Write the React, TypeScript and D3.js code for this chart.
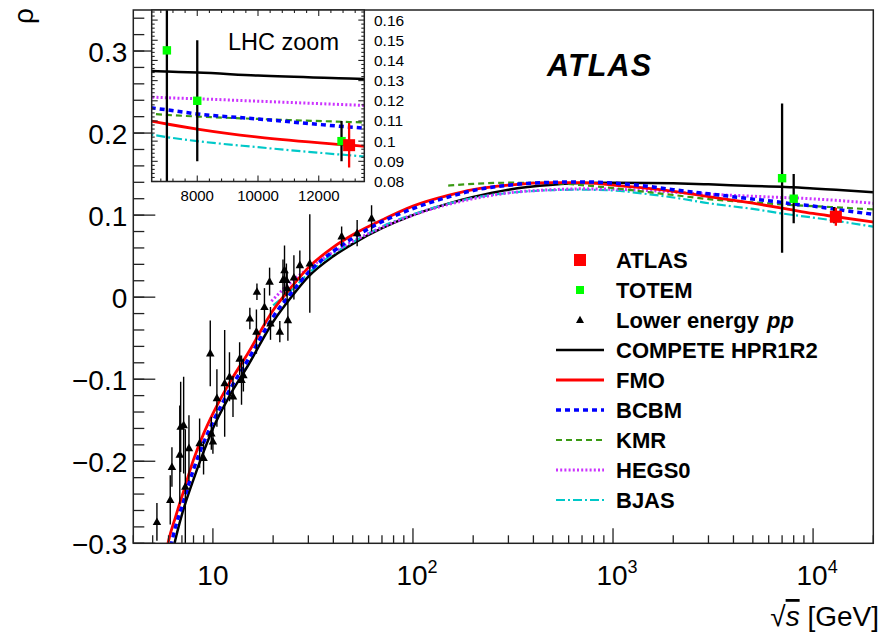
import React from 'react';
import * as d3 from 'd3';

const W = 883;
const H = 638;
const FONT = "'Liberation Sans', Arial, Helvetica, sans-serif";

// ---------- data ----------
type P = [number, number];

const COMPETE: P[] = [
  [6.0, -0.335], [6.5, -0.295], [7, -0.265], [8, -0.222], [9, -0.188], [10, -0.16], [12, -0.122],
  [15, -0.083], [20, -0.03], [25, 0.002], [30, 0.025], [40, 0.05], [50, 0.065], [70, 0.084],
  [100, 0.1], [150, 0.114], [200, 0.122], [300, 0.131], [500, 0.137], [700, 0.139], [1000, 0.1395],
  [1500, 0.1392], [2000, 0.1387], [3000, 0.1375], [5000, 0.1355], [7000, 0.1345], [8000, 0.134],
  [10000, 0.1325], [13000, 0.131], [20000, 0.128],
];
const FMO: P[] = [
  [5.8, -0.315], [6, -0.297], [6.5, -0.268], [7, -0.243], [8, -0.198], [9, -0.166], [10, -0.142],
  [12, -0.106], [15, -0.068], [20, -0.016], [25, 0.014], [30, 0.036], [40, 0.061], [50, 0.076],
  [70, 0.094], [100, 0.111], [150, 0.124], [200, 0.131], [300, 0.1365], [500, 0.1395], [700, 0.1395],
  [1000, 0.1365], [1500, 0.1325], [2000, 0.129], [3000, 0.1225], [5000, 0.1145], [7000, 0.1085],
  [8000, 0.106], [10000, 0.102], [13000, 0.098], [20000, 0.0915],
];
const BCBM: P[] = [
  [5.9, -0.325], [6.5, -0.28], [7, -0.255], [8, -0.21], [9, -0.177], [10, -0.152], [12, -0.115],
  [15, -0.076], [20, -0.024], [25, 0.007], [30, 0.03], [40, 0.056], [50, 0.072], [70, 0.092],
  [100, 0.108], [150, 0.122], [200, 0.13], [300, 0.1365], [500, 0.14], [700, 0.1405], [1000, 0.139],
  [1500, 0.135], [2000, 0.131], [3000, 0.126], [5000, 0.1195], [7000, 0.1155], [8000, 0.1135],
  [10000, 0.111], [13000, 0.107], [20000, 0.101],
];
const KMR: P[] = [
  [150, 0.136], [200, 0.138], [300, 0.1395], [500, 0.139], [700, 0.1365], [1000, 0.133],
  [1500, 0.128], [2000, 0.1245], [3000, 0.1195], [5000, 0.1155], [7000, 0.113], [8000, 0.1122],
  [10000, 0.111], [13000, 0.1095], [20000, 0.107],
];
const HEGS0: P[] = [
  [19.6, -0.005], [25, 0.02], [30, 0.035], [40, 0.055], [50, 0.068], [70, 0.085], [100, 0.1],
  [150, 0.113], [200, 0.12], [300, 0.127], [500, 0.131], [700, 0.132], [1000, 0.1315], [1500, 0.13],
  [2000, 0.128], [3000, 0.1255], [5000, 0.123], [7000, 0.1215], [8000, 0.121], [10000, 0.1198],
  [13000, 0.118], [20000, 0.1145],
];
const BJAS: P[] = [
  [20, -0.01], [25, 0.01], [30, 0.029], [40, 0.053], [50, 0.067], [70, 0.086], [100, 0.101],
  [150, 0.114], [200, 0.121], [300, 0.127], [500, 0.1305], [700, 0.131], [1000, 0.13], [1500, 0.1255],
  [2000, 0.1215], [3000, 0.1145], [5000, 0.1075], [7000, 0.102], [8000, 0.1], [10000, 0.097],
  [13000, 0.093], [20000, 0.086],
];

const lowS = [5.25, 6.12, 6.24, 6.83, 6.9, 7.14, 7.28, 7.59, 8.58, 8.98, 9.7, 9.82, 10.0, 10.47,
  11.45, 12.1, 12.6, 13.6, 13.9, 14.2, 15.3, 16.6, 16.5, 18.1, 19.2, 19.4, 21.6, 22.4, 22.8, 23.3,
  23.5, 23.7, 25.4, 27.2, 30.5, 44, 52.6, 62.1];
const lowRho = [-0.274, -0.247, -0.207, -0.192, -0.158, -0.156, -0.231, -0.184, -0.178, -0.196,
  -0.0685, -0.166, -0.176, -0.123, -0.105, -0.097, -0.121, -0.075, -0.101, -0.095, -0.026, 0.0066,
  -0.042, -0.012, 0.019, -0.032, -0.042, 0.021, 0.033, 0.021, 0.011, -0.028, 0.024, 0.039, 0.041,
  0.074, 0.078, 0.096];
const lowErr = [0.023, 0.03, 0.024, 0.06, 0.055, 0.059, 0.07, 0.04, 0.03, 0.02, 0.04, 0.02, 0.015,
  0.035, 0.065, 0.03, 0.025, 0.02, 0.03, 0.02, 0.013, 0.01, 0.027, 0.023, 0.017, 0.02, 0.013, 0.025,
  0.03, 0.02, 0.02, 0.025, 0.027, 0.018, 0.06, 0.012, 0.016, 0.016];

const totemS = [7000, 8000, 12750];
const totemRho = [0.145, 0.12, 0.1];
const totemErr = [0.091, 0.03, 0.01];

const atlasS = [13000];
const atlasRho = [0.098];
const atlasErr = [0.011];

const yMajor = [-0.3, -0.2, -0.1, 0, 0.1, 0.2, 0.3];
const yMajorLabels = ['\u22120.3', '\u22120.2', '\u22120.1', '0', '0.1', '0.2', '0.3'];
const xMajor = [10, 100, 1000, 10000];
const xMajorBase = ['10', '10', '10', '10'];
const xMajorExp = ['', '2', '3', '4'];

const inYMajor = [0.08, 0.09, 0.1, 0.11, 0.12, 0.13, 0.14, 0.15, 0.16];
const inYLabels = ['0.08', '0.09', '0.1', '0.11', '0.12', '0.13', '0.14', '0.15', '0.16'];
const inXMajor = [8000, 10000, 12000];
const inXLabels = ['8000', '10000', '12000'];

// ---------- styles ----------
const models = [
  { name: 'COMPETE HPR1R2', data: COMPETE, color: '#000000', width: 2.5, dash: '' },
  { name: 'BJAS', data: BJAS, color: '#00c8c8', width: 2.2, dash: '9,3,2,3' },
  { name: 'HEGS0', data: HEGS0, color: '#cc33ff', width: 3, dash: '2,2.2' },
  { name: 'KMR', data: KMR, color: '#3a9a14', width: 2.2, dash: '6,4' },
  { name: 'FMO', data: FMO, color: '#ff0000', width: 2.8, dash: '' },
  { name: 'BCBM', data: BCBM, color: '#0000ff', width: 3.5, dash: '5,4' },
];

// ---------- layout ----------
const M = { left: 133.3, right: 873.3, top: 10, bottom: 543.3 };
const IN = { left: 151.7, right: 364.3, top: 10, bottom: 181.5 };

const xMain = d3.scaleLog().domain([4, 20000]).range([M.left, M.right]);
const yMain = d3.scaleLinear().domain([-0.3, 0.35]).range([M.bottom, M.top]);
const xIn = d3.scaleLinear().domain([6500, 13500]).range([IN.left, IN.right]);
const yIn = d3.scaleLinear().domain([0.08, 0.165]).range([IN.bottom, IN.top]);

const mainLine = d3.line<P>().x(d => xMain(d[0])).y(d => yMain(d[1])).curve(d3.curveMonotoneX);
const inLine = d3.line<P>().x(d => xIn(d[0])).y(d => yIn(d[1])).curve(d3.curveMonotoneX);

function xMinorTicks(): number[] {
  const out: number[] = [];
  for (let e = 0; e <= 4; e++) {
    for (let m = 2; m <= 9; m++) {
      const v = m * Math.pow(10, e);
      if (v >= 4 && v <= 20000) out.push(v);
    }
  }
  return out;
}
const yMinor = d3.range(-0.3, 0.3501, 0.02).map(v => Math.round(v * 1000) / 1000);
const inYMinor = d3.range(0.08, 0.1651, 0.002).map(v => Math.round(v * 10000) / 10000);
const inXMinor = d3.range(6800, 13500, 400);

function Tri({ x, y, s }: { x: number; y: number; s: number }) {
  const h = s * 0.9;
  return <path d={`M${x},${y - h * 0.6}L${x + s / 2},${y + h * 0.4}L${x - s / 2},${y + h * 0.4}Z`} fill="#000" />;
}

export default function App() {
  const legendRows = [
    { kind: 'sqBig', color: '#ff0000', label: 'ATLAS' },
    { kind: 'sqSmall', color: '#00ff00', label: 'TOTEM' },
    { kind: 'tri', color: '#000', label: 'Lower energy' },
    ...['COMPETE HPR1R2', 'FMO', 'BCBM', 'KMR', 'HEGS0', 'BJAS'].map(n => {
      const m = models.find(mm => mm.name === n)!;
      return { kind: 'line', color: m.color, label: n, width: m.width, dash: m.dash };
    }),
  ] as any[];

  return (
    <svg width={W} height={H} style={{ position: 'absolute', left: 0, top: 0, background: '#fff' }}
      fontFamily={FONT}>
      <defs>
        <clipPath id="clipMain"><rect x={M.left} y={M.top} width={M.right - M.left} height={M.bottom - M.top} /></clipPath>
        <clipPath id="clipIn"><rect x={IN.left} y={IN.top} width={IN.right - IN.left} height={IN.bottom - IN.top} /></clipPath>
      </defs>
      <rect x={0} y={0} width={W} height={H} fill="#fff" />

      {/* main curves */}
      <g clipPath="url(#clipMain)">
        {models.map(m => (
          <path key={m.name} d={mainLine(m.data) || ''} fill="none" stroke={m.color}
            strokeWidth={m.width} strokeDasharray={m.dash || undefined} />
        ))}
        {/* lower energy data */}
        {lowS.map((s, i) => (
          <g key={'l' + i}>
            <line x1={xMain(s)} x2={xMain(s)} y1={yMain(lowRho[i] - lowErr[i])} y2={yMain(lowRho[i] + lowErr[i])}
              stroke="#000" strokeWidth={1.4} />
            <Tri x={xMain(s)} y={yMain(lowRho[i])} s={8.5} />
          </g>
        ))}
        {/* TOTEM */}
        {totemS.map((s, i) => (
          <g key={'t' + i}>
            <line x1={xMain(s)} x2={xMain(s)} y1={yMain(totemRho[i] - totemErr[i])} y2={yMain(totemRho[i] + totemErr[i])}
              stroke="#000" strokeWidth={2.3} />
            <rect x={xMain(s) - 4.2} y={yMain(totemRho[i]) - 4.2} width={8.4} height={8.4} fill="#00ff00" />
          </g>
        ))}
        {/* ATLAS */}
        {atlasS.map((s, i) => (
          <g key={'a' + i}>
            <line x1={xMain(s)} x2={xMain(s)} y1={yMain(atlasRho[i] - atlasErr[i])} y2={yMain(atlasRho[i] + atlasErr[i])}
              stroke="#ff0000" strokeWidth={2.3} />
            <rect x={xMain(s) - 6} y={yMain(atlasRho[i]) - 6} width={12} height={12} fill="#ff0000" />
          </g>
        ))}
      </g>

      {/* main frame */}
      <rect x={M.left} y={M.top} width={M.right - M.left} height={M.bottom - M.top} fill="none" stroke="#222" strokeWidth={1.5} />
      {/* y ticks */}
      {yMinor.map((v, i) => (
        <line key={'ym' + i} x1={M.left} x2={M.left + 11} y1={yMain(v)} y2={yMain(v)} stroke="#222" strokeWidth={1.3} />
      ))}
      {yMajor.map((v, i) => (
        <g key={'yM' + i}>
          <line x1={M.left} x2={M.left + 22} y1={yMain(v)} y2={yMain(v)} stroke="#222" strokeWidth={1.3} />
          <text x={M.left - 6} y={yMain(v) + 10.5} textAnchor="end" fontSize={28}>{yMajorLabels[i]}</text>
        </g>
      ))}
      {/* x ticks */}
      {xMinorTicks().map((v, i) => (
        <line key={'xm' + i} x1={xMain(v)} x2={xMain(v)} y1={M.bottom} y2={M.bottom - 8} stroke="#222" strokeWidth={1.3} />
      ))}
      {xMajor.map((v, i) => (
        <g key={'xM' + i}>
          <line x1={xMain(v)} x2={xMain(v)} y1={M.bottom} y2={M.bottom - 15} stroke="#222" strokeWidth={1.3} />
          <text x={xMain(v) + (xMajorExp[i] ? 4 : 0)} y={585} textAnchor="middle" fontSize={28}>
            {xMajorBase[i]}
            {xMajorExp[i] ? <tspan fontSize={18} dy={-12}>{xMajorExp[i]}</tspan> : null}
          </text>
        </g>
      ))}

      {/* axis titles */}
      <text transform="translate(33,16) rotate(-90)" textAnchor="middle" fontSize={28}>ρ</text>
      <text x={879} y={626} textAnchor="end" fontSize={28}>
        √<tspan fontStyle="italic" style={{ textDecoration: 'overline' }}>s</tspan> [GeV]
      </text>

      {/* ATLAS label */}
      <text x={547} y={76} fontSize={30.5} fontWeight="bold" fontStyle="italic" letterSpacing={1.2}>ATLAS</text>

      {/* legend */}
      {legendRows.map((r, i) => {
        const cy = 260 + i * 30;
        let sym: React.ReactNode = null;
        if (r.kind === 'sqBig') sym = <rect x={580 - 6} y={cy - 6} width={12} height={12} fill={r.color} />;
        else if (r.kind === 'sqSmall') sym = <rect x={580 - 4} y={cy - 4} width={8} height={8} fill={r.color} />;
        else if (r.kind === 'tri') sym = <Tri x={580} y={cy} s={8} />;
        else sym = <line x1={556} x2={604} y1={cy} y2={cy} stroke={r.color} strokeWidth={r.width} strokeDasharray={r.dash || undefined} />;
        return (
          <g key={'lg' + i}>
            {sym}
            <text x={616} y={cy + 7.8} fontSize={22} fontWeight="bold">
              {r.label}
              {r.kind === 'tri' ? <tspan fontStyle="italic" dx={8}>pp</tspan> : null}
            </text>
          </g>
        );
      })}

      {/* inset */}
      <rect x={IN.left} y={IN.top} width={IN.right - IN.left} height={IN.bottom - IN.top} fill="#fff" />
      <g clipPath="url(#clipIn)">
        {models.map(m => (
          <path key={'in' + m.name} d={inLine(m.data.filter(d => d[0] >= 5000)) || ''} fill="none" stroke={m.color}
            strokeWidth={m.width} strokeDasharray={m.dash || undefined} />
        ))}
        {totemS.map((s, i) => (
          <g key={'it' + i}>
            <line x1={xIn(s)} x2={xIn(s)} y1={yIn(totemRho[i] - totemErr[i])} y2={yIn(totemRho[i] + totemErr[i])}
              stroke="#000" strokeWidth={2.3} />
            <rect x={xIn(s) - 4.2} y={yIn(totemRho[i]) - 4.2} width={8.4} height={8.4} fill="#00ff00" />
          </g>
        ))}
        {atlasS.map((s, i) => (
          <g key={'ia' + i}>
            <line x1={xIn(s)} x2={xIn(s)} y1={yIn(atlasRho[i] - atlasErr[i])} y2={yIn(atlasRho[i] + atlasErr[i])}
              stroke="#ff0000" strokeWidth={2.3} />
            <rect x={xIn(s) - 6} y={yIn(atlasRho[i]) - 6} width={12} height={12} fill="#ff0000" />
          </g>
        ))}
      </g>
      <rect x={IN.left} y={IN.top} width={IN.right - IN.left} height={IN.bottom - IN.top} fill="none" stroke="#222" strokeWidth={1.5} />
      {inYMinor.map((v, i) => {
        const major = inYMajor.some(m => Math.abs(m - v) < 1e-6);
        const L = major ? 6 : 3;
        return (
          <g key={'iy' + i}>
            <line x1={IN.left} x2={IN.left + L} y1={yIn(v)} y2={yIn(v)} stroke="#222" strokeWidth={1.1} />
            <line x1={IN.right} x2={IN.right - L} y1={yIn(v)} y2={yIn(v)} stroke="#222" strokeWidth={1.1} />
          </g>
        );
      })}
      {inYMajor.map((v, i) => (
        <text key={'iyl' + i} x={374} y={yIn(v) + 5.5} fontSize={15.5}>{inYLabels[i]}</text>
      ))}
      {inXMinor.map((v, i) => {
        const major = inXMajor.includes(v);
        const L = major ? 6 : 3;
        return (
          <g key={'ix' + i}>
            <line x1={xIn(v)} x2={xIn(v)} y1={IN.bottom} y2={IN.bottom - L} stroke="#222" strokeWidth={1.1} />
            <line x1={xIn(v)} x2={xIn(v)} y1={IN.top} y2={IN.top + L} stroke="#222" strokeWidth={1.1} />
          </g>
        );
      })}
      {inXMajor.map((v, i) => (
        <text key={'ixl' + i} x={xIn(v)} y={200.5} textAnchor="middle" fontSize={15}>{inXLabels[i]}</text>
      ))}
      <text x={228} y={50} fontSize={23.5}>LHC zoom</text>
    </svg>
  );
}
